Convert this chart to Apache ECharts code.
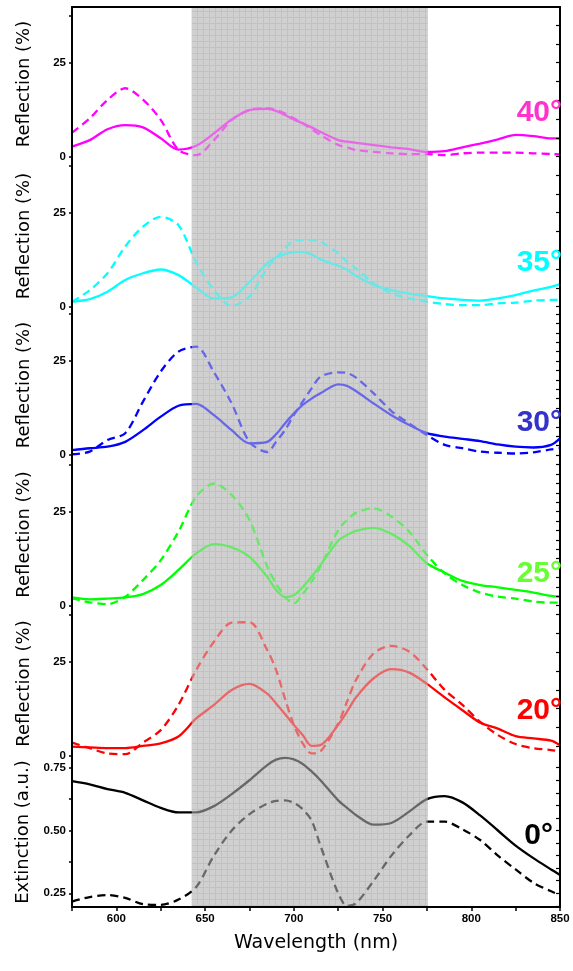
<!DOCTYPE html>
<html><head><meta charset="utf-8">
<script src="https://cdn.jsdelivr.net/npm/echarts@6/dist/echarts.min.js"></script>
<style>html,body{margin:0;padding:0;background:#fff}#c{width:573px;height:971px}</style>
</head><body><div id="c"></div>
<script>
// ---------------- DATA ----------------
const wavelengths = [575,585,595,605,615,625,635,645,655,665,675,685,690,695,700,705,710,715,725,730,735,745,755,765,775,785,795,805,815,825,835,845,850];
const refl40Solid  = [2.7,4.4,7.3,8.4,7.8,4.9,1.9,2.9,6.2,9.9,12.4,12.7,12.2,11.1,9.9,8.9,7.8,6.6,4.4,4.0,3.7,3.1,2.5,2.0,1.3,1.5,2.5,3.5,4.6,5.8,5.5,4.9,4.9];
const refl40Dashed = [6.4,10.2,15.1,18.2,15.2,9.8,1.8,0.4,4.4,9.8,12.4,12.9,12.4,11.5,10.2,8.9,7.3,5.8,3.1,2.5,1.8,1.3,0.9,0.7,0.7,0.4,0.9,1.1,1.1,1.1,0.9,0.7,0.6];
const refl35Solid  = [1.3,2.0,4.0,7.1,8.9,9.9,8.4,5.1,2.2,2.5,6.6,11.5,13.1,14.0,14.5,14.6,13.9,12.6,10.9,9.8,8.2,5.8,4.4,3.5,2.8,2.2,1.8,1.6,2.2,3.1,4.3,5.3,6.0];
const refl35Dashed = [1.3,4.4,8.9,16.0,21.3,23.9,21.7,11.8,4.4,0.2,2.7,10.3,12.9,15.5,17.6,17.7,17.7,17.3,14.2,11.9,10.2,6.2,3.5,2.2,1.3,0.7,0.4,0.4,0.9,1.1,1.6,1.8,1.8];
const refl30Solid  = [1.3,1.8,2.2,3.5,6.6,10.2,13.1,13.6,10.6,6.6,3.1,3.5,5.5,8.4,11.0,13.3,15.0,16.4,18.8,18.4,17.0,13.7,10.6,8.0,5.8,4.9,4.3,3.7,2.8,2.2,2.0,2.7,4.4];
const refl30Dashed = [0.2,0.9,4.0,5.8,14.2,22.2,27.5,28.8,22.0,13.7,3.5,0.8,3.5,6.6,10.6,14.2,17.7,20.8,22.0,21.8,20.6,16.4,11.7,8.4,5.3,2.7,1.8,0.9,0.6,0.4,0.7,1.5,1.8];
const refl25Solid  = [2.2,1.7,1.9,2.2,3.1,5.5,9.5,13.9,16.4,15.5,13.0,7.7,4.2,2.3,2.8,4.9,7.7,10.8,17.3,18.8,19.9,20.7,19.1,15.9,11.3,8.8,6.6,5.5,4.9,4.2,3.5,2.6,2.4];
const refl25Dashed = [2.0,0.9,0.4,2.4,6.8,12.1,19.7,29.0,32.5,29.4,22.8,10.4,5.9,2.4,0.6,3.1,6.4,10.4,20.1,22.8,24.7,25.9,23.7,19.7,13.5,8.6,5.5,3.5,2.4,1.9,1.1,0.8,0.8];
const refl20Solid  = [2.4,2.2,2.0,2.0,2.6,3.3,5.1,9.9,13.5,17.5,19.1,16.5,13.9,11.1,8.2,5.5,2.6,2.8,8.2,11.7,15.5,20.6,23.0,22.1,19.1,15.5,12.1,8.8,7.2,5.2,4.6,4.0,2.8];
const refl20Dashed = [3.5,2.0,0.6,0.4,3.5,6.8,13.5,22.8,30.3,35.4,35.5,28.1,22.8,15.2,8.2,3.3,0.6,1.1,8.6,14.4,20.1,27.2,29.2,27.7,23.0,17.5,13.5,9.0,5.5,3.1,2.0,1.5,1.1];
const ext0Solid    = [0.697,0.684,0.665,0.650,0.620,0.590,0.572,0.572,0.597,0.645,0.700,0.760,0.782,0.789,0.783,0.765,0.735,0.700,0.620,0.590,0.562,0.523,0.530,0.575,0.625,0.637,0.612,0.560,0.500,0.440,0.390,0.345,0.323];
const ext0Dashed   = [0.217,0.235,0.243,0.232,0.207,0.204,0.225,0.275,0.400,0.500,0.565,0.607,0.618,0.620,0.610,0.585,0.540,0.440,0.250,0.200,0.210,0.300,0.400,0.480,0.535,0.535,0.505,0.462,0.400,0.345,0.292,0.258,0.243];
const shadeRange   = [642.5, 775.5];
const angleLabels  = ['40°','35°','30°','25°','20°','0°'];
const xTickLabels  = [600,650,700,750,800,850];
const reflTickLabels = [0,25];
const extTickLabels  = [0.25,0.50,0.75];

// ---------------- STYLE / LAYOUT ----------------
const lineColors  = ['#ff00ff','#00ffff','#0000ff','#00ff00','#ff0000','#000000'];
const labelColors = ['#ff33cc','#00ffff','#3333cc','#66ff33','#ff0000','#000000'];
const seriesPairs = [[refl40Solid,refl40Dashed],[refl35Solid,refl35Dashed],[refl30Solid,refl30Dashed],[refl25Solid,refl25Dashed],[refl20Solid,refl20Dashed],[ext0Solid,ext0Dashed]];
const L = 72, W = 488, TOP = 7, BOT = 907;
const panelBoxes = [[7,161,156.7],[161,311,306.7],[311,459,455],[459,610,605.7],[610,757,755.7]];
const pxPerPct = 94/25;
const extBox = [757,907,893.3]; const pxPerExt = 251.2; // 0.25 at 893.3
const labelPos = [[562,113],[562,263],[562,423],[562,574],[562,711],[553,836]];
const rightTicks = [
  [0,5,10,15,20,25,30,35],
  [0,5,10,15,20,25,30,35],
  [0,2.5,5,7.5,10,12.5,15,17.5,20,22.5,25,27.5,30,32.5,35,37.5],
  [0,2.5,5,7.5,10,12.5,15,17.5,20,22.5,25,27.5,30,32.5,35,37.5],
  [2.5,7.5,12.5,17.5,22.5,27.5,32.5,37.5],
  [0.2,0.25,0.3,0.35,0.4,0.45,0.5,0.55,0.6,0.65,0.7,0.75]
];

// pattern for shaded band
const pc = document.createElement('canvas'); pc.width = 6; pc.height = 6;
const g = pc.getContext('2d');
g.fillStyle = '#d0d0d0'; g.fillRect(0,0,6,6);
g.fillStyle = '#b4b4b4'; g.fillRect(0,5,6,1); g.fillRect(5,0,1,6);

const grids = [], xAxes = [], yAxes = [], series = [];
const tickFont = {fontFamily:'Liberation Sans', fontWeight:'bold', fontSize:11.5, color:'#000'};
const axisLine = {show:true, lineStyle:{color:'#000', width:2}};

// overlay grid (index 0)
grids.push({left:L, width:W, top:TOP, height:BOT-TOP, show:false});
xAxes.push({type:'value', gridIndex:0, min:575, max:850, interval:25, position:'bottom', z:10,
  axisLine:axisLine, axisTick:{show:true, length:4, lineStyle:{color:'#000', width:1.5}},
  axisLabel:Object.assign({margin:6, customValues:xTickLabels}, tickFont),
  splitLine:{show:false},
  name:'Wavelength (nm)', nameLocation:'middle', nameGap:27,
  nameTextStyle:{fontFamily:'DejaVu Sans', fontSize:19, color:'#000'}});
xAxes.push({type:'value', gridIndex:0, min:575, max:850, position:'top', z:10,
  axisLine:axisLine, axisTick:{show:false}, axisLabel:{show:false}, splitLine:{show:false}});
yAxes.push({type:'value', gridIndex:0, min:0, max:1, show:false});

const allPanels = panelBoxes.map(b => ({top:b[0], bottom:b[1], min:-(b[1]-b[2])/pxPerPct, max:(b[2]-b[0])/pxPerPct, ext:false}));
allPanels.push({top:extBox[0], bottom:extBox[1], min:0.25-(extBox[1]-extBox[2])/pxPerExt, max:0.25+(extBox[2]-extBox[0])/pxPerExt, ext:true});

allPanels.forEach((p, i) => {
  const gi = grids.length;
  grids.push({left:L, width:W, top:p.top, height:p.bottom-p.top, show:false});
  const xi = xAxes.length;
  xAxes.push({type:'value', gridIndex:gi, min:575, max:850, show:false});
  const yi = yAxes.length;
  yAxes.push({type:'value', gridIndex:gi, min:p.min, max:p.max, position:'left', z:10,
    axisLine:axisLine,
    axisTick:{show:true, length:3, lineStyle:{color:'#000', width:1.5},
      customValues: p.ext ? [0.25,0.375,0.5,0.625,0.75] : [0,25,37.5]},
    axisLabel:Object.assign({margin:6, customValues: p.ext ? extTickLabels : reflTickLabels,
      formatter: v => p.ext ? v.toFixed(2) : String(v)}, tickFont),
    splitLine:{show:false},
    name: p.ext ? 'Extinction (a.u.)' : 'Reflection (%)', nameLocation:'middle', nameGap:39,
    nameTextStyle:{fontFamily:'DejaVu Sans', fontSize:18, color:'#000'}});
  yAxes.push({type:'value', gridIndex:gi, min:p.min, max:p.max, position:'right', z:10,
    axisLine:axisLine,
    axisTick:{show:true, inside:true, length:4, lineStyle:{color:'#000', width:1.2}, customValues:rightTicks[i]},
    axisLabel:{show:false}, splitLine:{show:false}});
  const [sol, das] = seriesPairs[i];
  series.push({type:'line', xAxisIndex:xi, yAxisIndex:yi, data:wavelengths.map((w,k)=>[w,sol[k]]),
    showSymbol:false, smooth:0.3, clip:false, z:2, silent:true,
    lineStyle:{color:lineColors[i], width:2.3}});
  series.push({type:'line', xAxisIndex:xi, yAxisIndex:yi, data:wavelengths.map((w,k)=>[w,das[k]]),
    showSymbol:false, smooth:0.3, clip:false, z:2, silent:true,
    lineStyle:{color:lineColors[i], width:2.3, type:[8,5]}});
});

function bandRenderer(fill) {
  return function (params, api) {
    const a = api.coord([api.value(0), 1]);
    const b = api.coord([api.value(1), 0]);
    return {type:'rect', shape:{x:a[0], y:a[1], width:b[0]-a[0], height:b[1]-a[1]}, style:{fill:fill}};
  };
}
series.push({type:'custom', xAxisIndex:0, yAxisIndex:0, z:1, silent:true,
  data:[[shadeRange[0], shadeRange[1]]], renderItem:bandRenderer({image:pc, repeat:'repeat'})});
series.push({type:'custom', xAxisIndex:0, yAxisIndex:0, z:5, silent:true,
  data:[[shadeRange[0], shadeRange[1]]], renderItem:bandRenderer('rgba(207,207,207,0.5)')});

const graphics = angleLabels.map((t, i) => ({type:'text', x:labelPos[i][0], y:labelPos[i][1], z:20,
  style:{text:t, fill:labelColors[i], font:'bold 30px "Liberation Sans"', align:'right', verticalAlign:'middle'}}));

const chart = echarts.init(document.getElementById('c'), null, {renderer:'canvas'});
chart.setOption({animation:false, backgroundColor:'#fff', grid:grids, xAxis:xAxes, yAxis:yAxes, series:series, graphic:graphics});
</script></body></html>
